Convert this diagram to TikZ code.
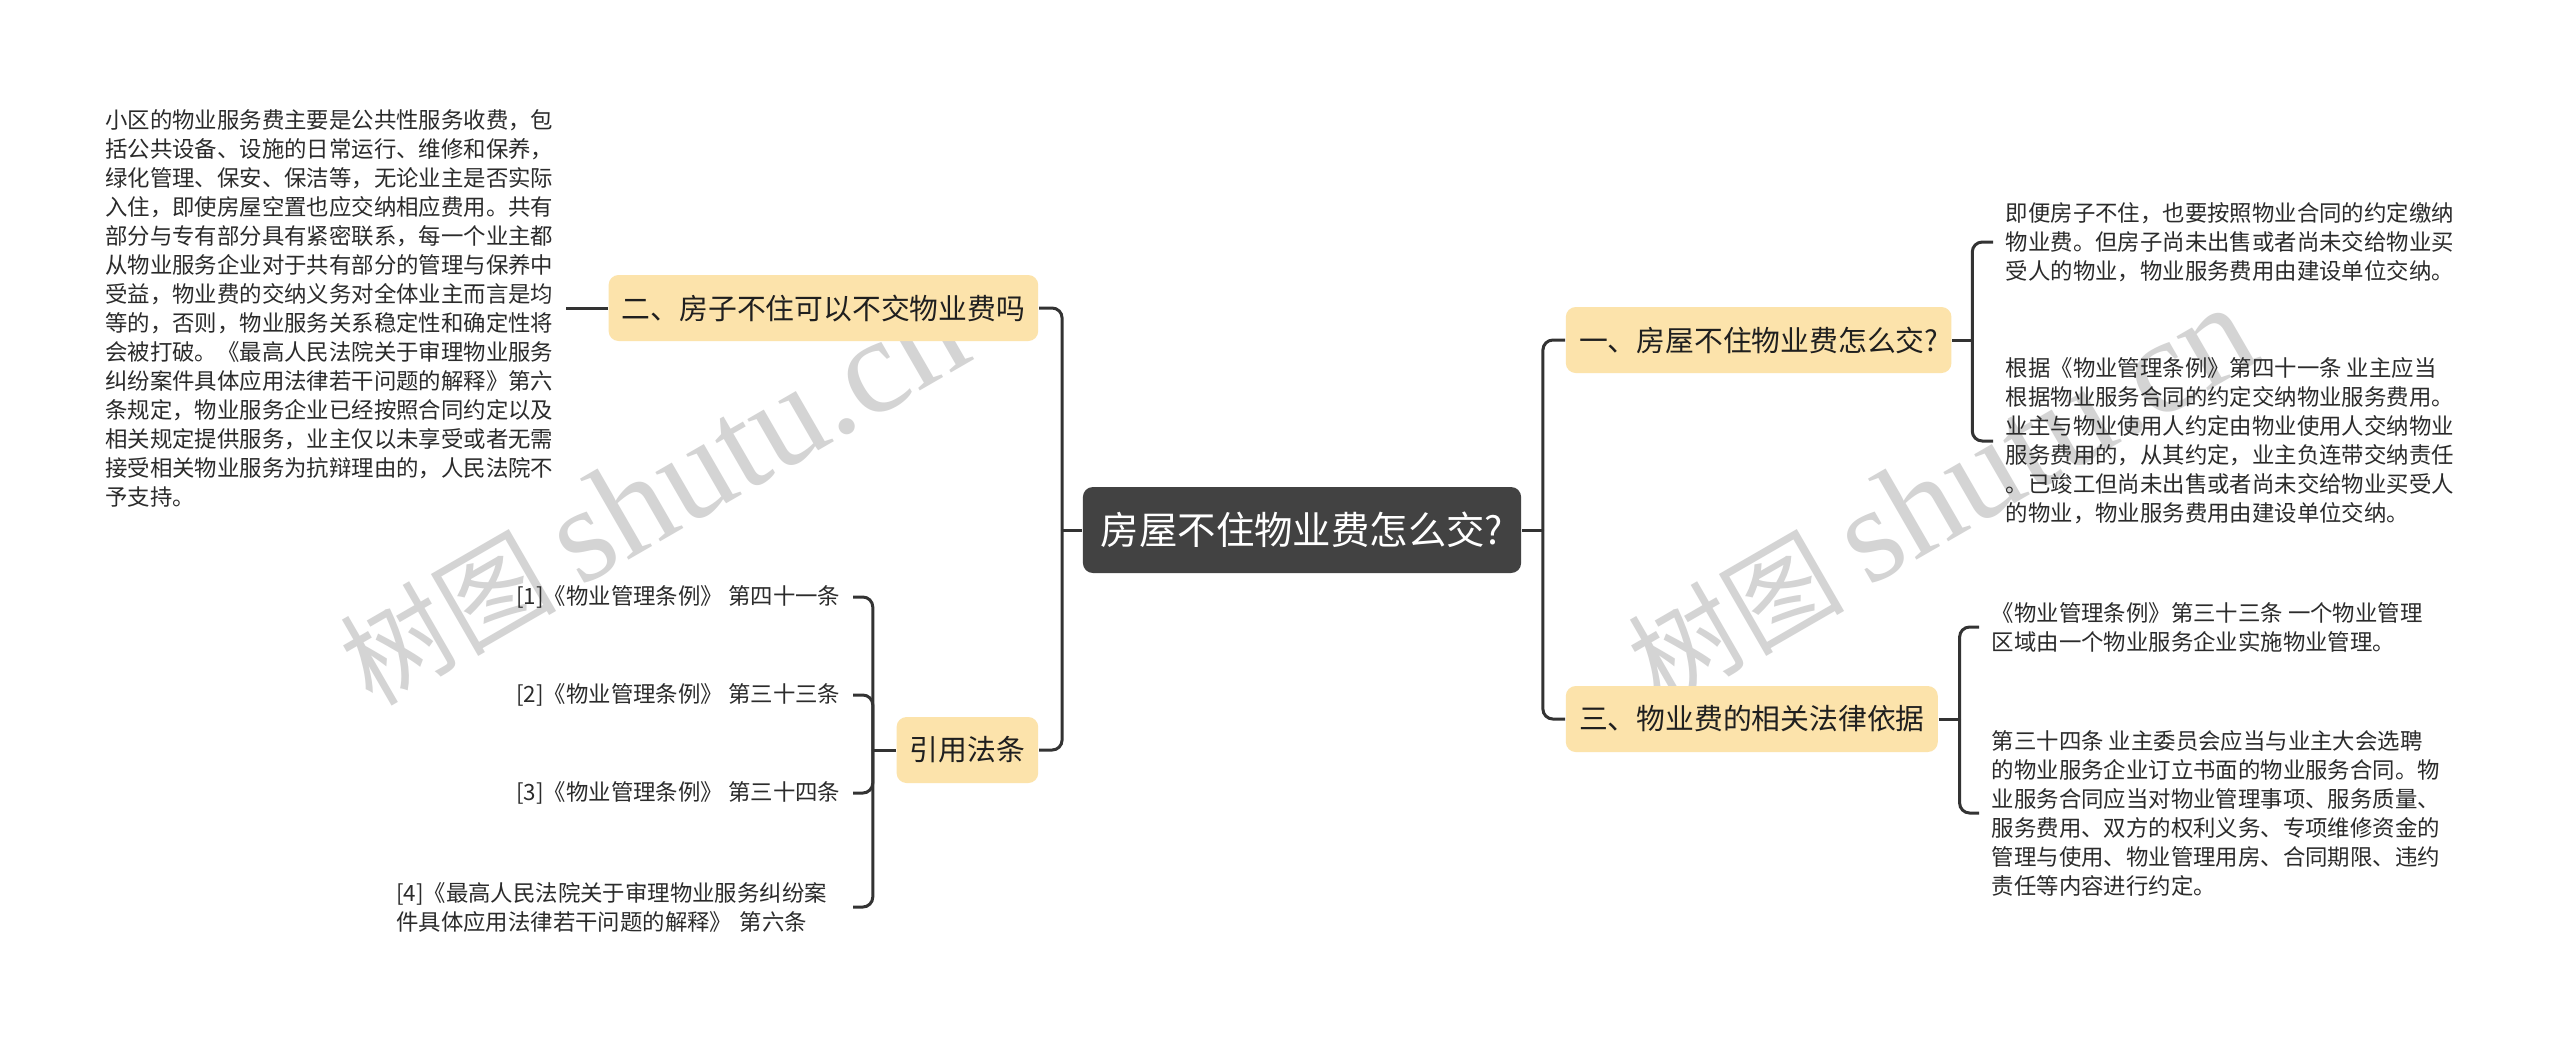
\documentclass[tikz,border=0pt]{standalone}
\usepackage{fontspec}
\setmainfont{Noto Sans CJK SC}
\newfontfamily\wmserif{Liberation Serif}
\definecolor{topicfill}{HTML}{FCE3AB}
\definecolor{rootfill}{HTML}{424242}
\definecolor{linkgray}{HTML}{333333}
\definecolor{leaftext}{HTML}{2B2B2B}

\begin{document}
\begin{tikzpicture}[x=0.25pt,y=-0.25pt,
    root/.style={fill=rootfill,text=white,rounded corners=2.5pt,inner xsep=4.5pt,
      minimum height=21.5pt,font=\fontsize{9.6pt}{11pt}\selectfont},
    topic/.style={fill=topicfill,text=black!88,rounded corners=2.5pt,inner xsep=3.3pt,
      minimum height=16.5pt,font=\fontsize{7.2pt}{9pt}\selectfont},
    leaf/.style={align=left,inner xsep=3pt,inner ysep=1pt,text=leaftext,
      font=\fontsize{5.6pt}{7.25pt}\selectfont},
    link/.style={draw=linkgray,line width=0.75pt},
    elbow/.style={link,rounded corners=2.5pt},
    wmark/.style={text=black!17,rotate=30,anchor=base west,inner sep=0pt,
      font=\fontsize{27pt}{27pt}\selectfont}]
    \useasboundingbox[fill=white] (0,0) rectangle (2560,1043);

    % watermarks
    \node[wmark] (wm1) at (372,708) {树图 {\wmserif\fontsize{34pt}{34pt}\selectfont shutu.cn}};
    \node[wmark] (wm2) at (1660,708) {树图 {\wmserif\fontsize{34pt}{34pt}\selectfont shutu.cn}};

    % centre and main topics
    \node[root] (root) at (1302,530) {房屋不住物业费怎么交?};

    \node[topic,anchor=east] (q2) at (1039,308) {二、房子不住可以不交物业费吗};
    \node[topic,anchor=east] (refs) at (1039,750) {引用法条};
    \node[topic,anchor=west] (q1) at (1565,340) {一、房屋不住物业费怎么交?};
    \node[topic,anchor=west] (q3) at (1565,719) {三、物业费的相关法律依据};

    % left side leaves
    \node[leaf,anchor=east] (q2a) at (566,308) {小区的物业服务费主要是公共性服务收费，包\\%
      括公共设备、设施的日常运行、维修和保养，\\%
      绿化管理、保安、保洁等，无论业主是否实际\\%
      入住，即使房屋空置也应交纳相应费用。共有\\%
      部分与专有部分具有紧密联系，每一个业主都\\%
      从物业服务企业对于共有部分的管理与保养中\\%
      受益，物业费的交纳义务对全体业主而言是均\\%
      等的，否则，物业服务关系稳定性和确定性将\\%
      会被打破。《最高人民法院关于审理物业服务\\%
      纠纷案件具体应用法律若干问题的解释》第六\\%
      条规定，物业服务企业已经按照合同约定以及\\%
      相关规定提供服务，业主仅以未享受或者无需\\%
      接受相关物业服务为抗辩理由的，人民法院不\\%
      予支持。};

    \node[leaf,anchor=east] (ref1) at (853,597) {[1]《物业管理条例》 第四十一条};
    \node[leaf,anchor=east] (ref2) at (853,695) {[2]《物业管理条例》 第三十三条};
    \node[leaf,anchor=east] (ref3) at (853,793) {[3]《物业管理条例》 第三十四条};
    \node[leaf,anchor=east,text width=111pt] (ref4) at (853,907) {[4]《最高人民法院关于审理物业服务纠纷案\\%
      件具体应用法律若干问题的解释》 第六条};

    % right side leaves
    \node[leaf,anchor=west] (q1a) at (1993,242) {即便房子不住，也要按照物业合同的约定缴纳\\%
      物业费。但房子尚未出售或者尚未交给物业买\\%
      受人的物业，物业服务费用由建设单位交纳。};
    \node[leaf,anchor=west] (q1b) at (1993,441) {根据《物业管理条例》第四十一条 业主应当\\%
      根据物业服务合同的约定交纳物业服务费用。\\%
      业主与物业使用人约定由物业使用人交纳物业\\%
      服务费用的，从其约定，业主负连带交纳责任\\%
      。已竣工但尚未出售或者尚未交给物业买受人\\%
      的物业，物业服务费用由建设单位交纳。};
    \node[leaf,anchor=west] (q3a) at (1979,627) {《物业管理条例》第三十三条 一个物业管理\\%
      区域由一个物业服务企业实施物业管理。};
    \node[leaf,anchor=west] (q3b) at (1979,813) {第三十四条 业主委员会应当与业主大会选聘\\%
      的物业服务企业订立书面的物业服务合同。物\\%
      业服务合同应当对物业管理事项、服务质量、\\%
      服务费用、双方的权利义务、专项维修资金的\\%
      管理与使用、物业管理用房、合同期限、违约\\%
      责任等内容进行约定。};

    % connectors
    \draw[link] (root.west) -- ++(-20,0) coordinate (jl);
    \draw[elbow] (jl) |- (q2.east);
    \draw[elbow] (jl) |- (refs.east);
    \draw[link] (q2.west) -- (q2a.east);

    \draw[link] (refs.west) -- ++(-23,0) coordinate (jq);
    \foreach \r in {ref1,ref2,ref3,ref4}
        \draw[elbow] (jq) |- (\r.east);

    \draw[link] (root.east) -- ++(21,0) coordinate (jr);
    \draw[elbow] (jr) |- (q1.west);
    \draw[elbow] (jr) |- (q3.west);

    \draw[link] (q1.east) -- ++(20,0) coordinate (j1);
    \draw[elbow] (j1) |- (q1a.west);
    \draw[elbow] (j1) |- (q1b.west);

    \draw[link] (q3.east) -- ++(21,0) coordinate (j3);
    \draw[elbow] (j3) |- (q3a.west);
    \draw[elbow] (j3) |- (q3b.west);
\end{tikzpicture}
\end{document}
